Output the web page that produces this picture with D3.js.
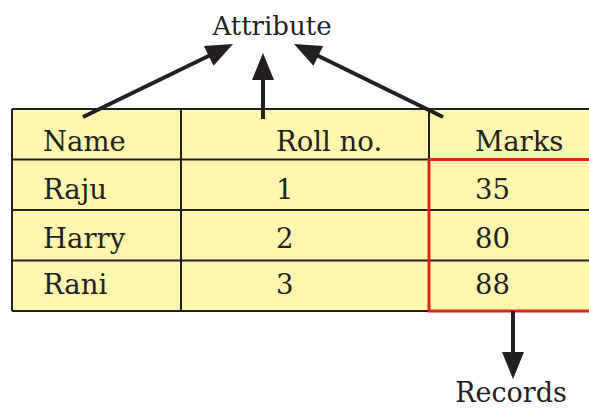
<!DOCTYPE html>
<html><head><meta charset="utf-8">
<script src="https://cdn.jsdelivr.net/npm/d3@7/dist/d3.min.js"></script>
<style>html,body{margin:0;padding:0;background:#fff;overflow:hidden}</style>
</head><body>
<script>
const columns = ["Name", "Roll no.", "Marks"];
const names = ["Raju", "Harry", "Rani"];
const rollNos = ["1", "2", "3"];
const marks = ["35", "80", "88"];
const topLabel = "Attribute";
const bottomLabel = "Records";

const W = 589, H = 409;
const ink = "#231f20", fill = "#fff7b0", red = "#d9261c";
const font = "'DejaVu Serif', serif";
const fs = 27.5;

const svg = d3.select("body").append("svg").attr("width", W).attr("height", H);

const rows = [columns].concat(names.map((n, i) => [n, rollNos[i], marks[i]]));
const y = d3.scaleBand().domain(d3.range(rows.length)).range([109, 311]);
const baseOff = [42, 39, 38, 33]; // baseline offset from row top, per row
const colEdge = d3.scaleOrdinal().domain(columns).range([12, 181, 429]);
const textX = d3.scaleOrdinal().domain(columns).range([43, 276, 475]);
const tableBottom = y(rows.length - 1) + y.bandwidth();

// table fill
svg.append("rect").attr("x", 12).attr("y", y(0)).attr("width", 600).attr("height", tableBottom - y(0)).attr("fill", fill);
// row lines
svg.selectAll("line.row").data(d3.range(rows.length + 1)).join("line")
  .attr("x1", 12).attr("x2", 600)
  .attr("y1", d => d < rows.length ? y(d) : tableBottom)
  .attr("y2", d => d < rows.length ? y(d) : tableBottom)
  .attr("stroke", ink).attr("stroke-width", 2);
// column lines
svg.selectAll("line.col").data(columns).join("line")
  .attr("x1", d => colEdge(d)).attr("x2", d => colEdge(d))
  .attr("y1", y(0)).attr("y2", tableBottom)
  .attr("stroke", ink).attr("stroke-width", 2);

// red box around Marks records
svg.append("rect").attr("x", colEdge("Marks")).attr("y", y(1))
  .attr("width", 620 - colEdge("Marks")).attr("height", tableBottom - y(1))
  .attr("fill", "none").attr("stroke", red).attr("stroke-width", 3);

// cell text
rows.forEach((r, ri) => {
  svg.selectAll(null).data(r).join("text")
    .attr("x", (d, ci) => textX(columns[ci]))
    .attr("y", y(ri) + baseOff[ri])
    .attr("font-family", font).attr("font-size", fs).attr("fill", ink)
    .text(d => d);
});

// labels
svg.append("text").attr("x", 272).attr("y", 35).attr("text-anchor", "middle")
  .attr("font-family", font).attr("font-size", 26).attr("fill", ink).text(topLabel);
svg.append("text").attr("x", 511).attr("y", 402).attr("text-anchor", "middle")
  .attr("font-family", font).attr("font-size", 27).attr("fill", ink).text(bottomLabel);

// arrows
function arrow(x1, y1, x2, y2) {
  const len = 27, half = 11;
  const dx = x2 - x1, dy = y2 - y1, L = Math.hypot(dx, dy);
  const ux = dx / L, uy = dy / L;
  const bx = x2 - ux * len, by = y2 - uy * len;
  svg.append("line").attr("x1", x1).attr("y1", y1).attr("x2", bx + ux * 2).attr("y2", by + uy * 2)
    .attr("stroke", ink).attr("stroke-width", 4);
  svg.append("polygon")
    .attr("points", [[x2, y2], [bx - uy * half, by + ux * half], [bx + uy * half, by - ux * half]].map(p => p.join(",")).join(" "))
    .attr("fill", ink);
}
arrow(83, 117, 233, 44);
arrow(263, 119, 263, 53);
arrow(443, 117, 294, 44);
arrow(513, 311, 513, 379);
</script>
</body></html>
